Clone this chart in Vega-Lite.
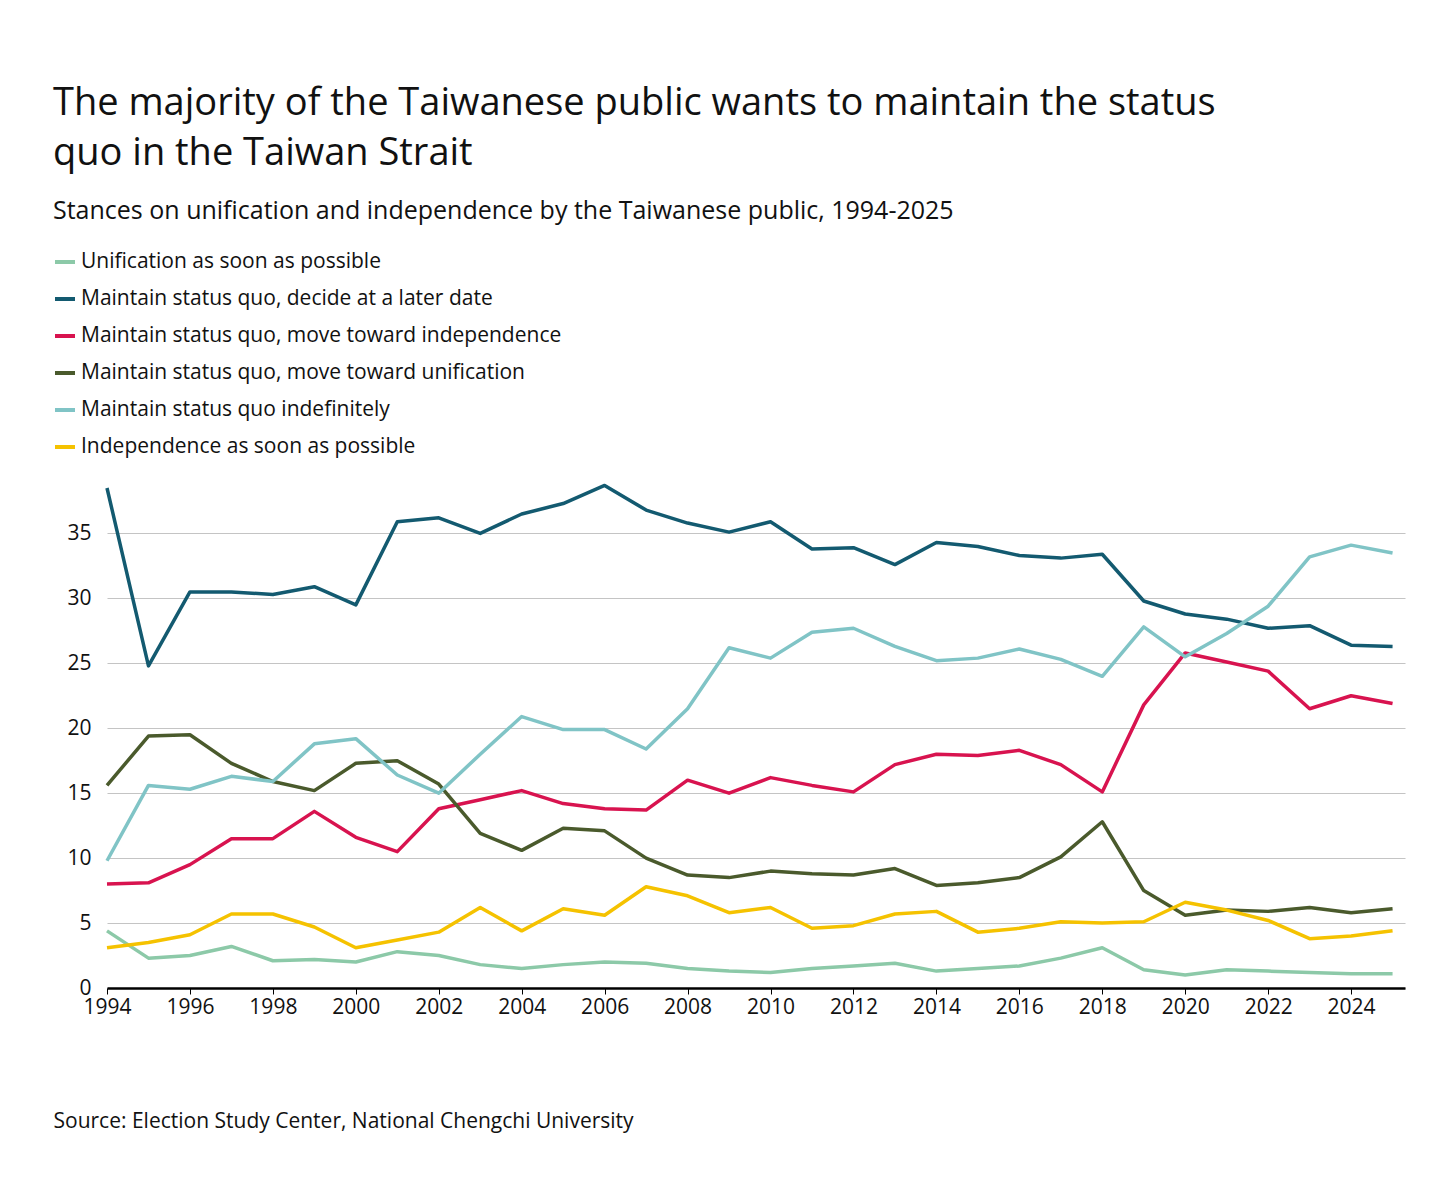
{
  "$schema": "https://vega.github.io/schema/vega-lite/v6.json",
  "width": 1298,
  "height": 513,
  "padding": {"left": 53, "top": 85, "right": 50, "bottom": 50},
  "background": "white",
  "config": {
    "font": "Open Sans",
    "view": {"stroke": null}
  },
  "title": {
    "text": ["The majority of the Taiwanese public wants to maintain the status", "quo in the Taiwan Strait"],
    "subtitle": "Stances on unification and independence by the Taiwanese public, 1994-2025",
    "anchor": "start",
    "frame": "bounds",
    "fontSize": 38,
    "fontWeight": "normal",
    "lineHeight": 50,
    "color": "#111",
    "subtitleFontSize": 25,
    "subtitleColor": "#111",
    "subtitlePadding": 26,
    "offset": 26
  },
  "data": {
    "values": [
      {"year": 1994, "a": 4.4, "b": 38.5, "c": 8.0, "d": 15.6, "e": 9.8, "f": 3.1},
      {"year": 1995, "a": 2.3, "b": 24.8, "c": 8.1, "d": 19.4, "e": 15.6, "f": 3.5},
      {"year": 1996, "a": 2.5, "b": 30.5, "c": 9.5, "d": 19.5, "e": 15.3, "f": 4.1},
      {"year": 1997, "a": 3.2, "b": 30.5, "c": 11.5, "d": 17.3, "e": 16.3, "f": 5.7},
      {"year": 1998, "a": 2.1, "b": 30.3, "c": 11.5, "d": 15.9, "e": 15.9, "f": 5.7},
      {"year": 1999, "a": 2.2, "b": 30.9, "c": 13.6, "d": 15.2, "e": 18.8, "f": 4.7},
      {"year": 2000, "a": 2.0, "b": 29.5, "c": 11.6, "d": 17.3, "e": 19.2, "f": 3.1},
      {"year": 2001, "a": 2.8, "b": 35.9, "c": 10.5, "d": 17.5, "e": 16.4, "f": 3.7},
      {"year": 2002, "a": 2.5, "b": 36.2, "c": 13.8, "d": 15.7, "e": 15.0, "f": 4.3},
      {"year": 2003, "a": 1.8, "b": 35.0, "c": 14.5, "d": 11.9, "e": 18.0, "f": 6.2},
      {"year": 2004, "a": 1.5, "b": 36.5, "c": 15.2, "d": 10.6, "e": 20.9, "f": 4.4},
      {"year": 2005, "a": 1.8, "b": 37.3, "c": 14.2, "d": 12.3, "e": 19.9, "f": 6.1},
      {"year": 2006, "a": 2.0, "b": 38.7, "c": 13.8, "d": 12.1, "e": 19.9, "f": 5.6},
      {"year": 2007, "a": 1.9, "b": 36.8, "c": 13.7, "d": 10.0, "e": 18.4, "f": 7.8},
      {"year": 2008, "a": 1.5, "b": 35.8, "c": 16.0, "d": 8.7, "e": 21.5, "f": 7.1},
      {"year": 2009, "a": 1.3, "b": 35.1, "c": 15.0, "d": 8.5, "e": 26.2, "f": 5.8},
      {"year": 2010, "a": 1.2, "b": 35.9, "c": 16.2, "d": 9.0, "e": 25.4, "f": 6.2},
      {"year": 2011, "a": 1.5, "b": 33.8, "c": 15.6, "d": 8.8, "e": 27.4, "f": 4.6},
      {"year": 2012, "a": 1.7, "b": 33.9, "c": 15.1, "d": 8.7, "e": 27.7, "f": 4.8},
      {"year": 2013, "a": 1.9, "b": 32.6, "c": 17.2, "d": 9.2, "e": 26.3, "f": 5.7},
      {"year": 2014, "a": 1.3, "b": 34.3, "c": 18.0, "d": 7.9, "e": 25.2, "f": 5.9},
      {"year": 2015, "a": 1.5, "b": 34.0, "c": 17.9, "d": 8.1, "e": 25.4, "f": 4.3},
      {"year": 2016, "a": 1.7, "b": 33.3, "c": 18.3, "d": 8.5, "e": 26.1, "f": 4.6},
      {"year": 2017, "a": 2.3, "b": 33.1, "c": 17.2, "d": 10.1, "e": 25.3, "f": 5.1},
      {"year": 2018, "a": 3.1, "b": 33.4, "c": 15.1, "d": 12.8, "e": 24.0, "f": 5.0},
      {"year": 2019, "a": 1.4, "b": 29.8, "c": 21.8, "d": 7.5, "e": 27.8, "f": 5.1},
      {"year": 2020, "a": 1.0, "b": 28.8, "c": 25.8, "d": 5.6, "e": 25.5, "f": 6.6},
      {"year": 2021, "a": 1.4, "b": 28.4, "c": 25.1, "d": 6.0, "e": 27.3, "f": 6.0},
      {"year": 2022, "a": 1.3, "b": 27.7, "c": 24.4, "d": 5.9, "e": 29.4, "f": 5.2},
      {"year": 2023, "a": 1.2, "b": 27.9, "c": 21.5, "d": 6.2, "e": 33.2, "f": 3.8},
      {"year": 2024, "a": 1.1, "b": 26.4, "c": 22.5, "d": 5.8, "e": 34.1, "f": 4.0},
      {"year": 2025, "a": 1.1, "b": 26.3, "c": 21.9, "d": 6.1, "e": 33.5, "f": 4.4}
    ]
  },
  "transform": [
    {"fold": ["a", "b", "c", "d", "e", "f"], "as": ["key", "value"]},
    {"lookup": "key", "from": {"data": {"values": [
      {"key": "a", "stance": "Unification as soon as possible"},
      {"key": "b", "stance": "Maintain status quo, decide at a later date"},
      {"key": "c", "stance": "Maintain status quo, move toward independence"},
      {"key": "d", "stance": "Maintain status quo, move toward unification"},
      {"key": "e", "stance": "Maintain status quo indefinitely"},
      {"key": "f", "stance": "Independence as soon as possible"}
    ]}, "key": "key", "fields": ["stance"]}}
  ],
  "mark": {"type": "line", "strokeWidth": 3.5, "strokeJoin": "round"},
  "encoding": {
    "x": {
      "field": "year", "type": "quantitative",
      "scale": {"domain": [1994, 2025.3], "nice": false, "zero": false},
      "axis": {
        "values": [1994, 1996, 1998, 2000, 2002, 2004, 2006, 2008, 2010, 2012, 2014, 2016, 2018, 2020, 2022, 2024],
        "format": "d", "grid": false, "domainColor": "#000", "domainWidth": 2.5,
        "tickColor": "#000", "tickSize": 6, "labelFontSize": 21, "labelColor": "#111",
        "labelPadding": 2, "labelFlush": false, "labelOverlap": false, "labelBound": false,
        "title": "Source: Election Study Center, National Chengchi University",
        "titleFontSize": 21, "titleFontWeight": "normal", "titleColor": "#111",
        "titleAnchor": "start", "titleAlign": "left", "titleX": -54, "titleY": 122
      }
    },
    "y": {
      "field": "value", "type": "quantitative",
      "scale": {"domain": [0, 39.5], "nice": false},
      "axis": {
        "values": [0, 5, 10, 15, 20, 25, 30, 35], "domain": false, "ticks": false,
        "gridColor": "#c4c4c4", "gridWidth": 1.2, "labelFontSize": 21, "labelColor": "#111",
        "labelPadding": 16, "title": null
      }
    },
    "color": {
      "field": "stance", "type": "nominal",
      "sort": ["Unification as soon as possible", "Maintain status quo, decide at a later date", "Maintain status quo, move toward independence", "Maintain status quo, move toward unification", "Maintain status quo indefinitely", "Independence as soon as possible"],
      "scale": {
        "domain": ["Unification as soon as possible", "Maintain status quo, decide at a later date", "Maintain status quo, move toward independence", "Maintain status quo, move toward unification", "Maintain status quo indefinitely", "Independence as soon as possible"],
        "range": ["#8cc9a8", "#135a70", "#d8134f", "#4a5a2c", "#80c4c6", "#f5c200"]
      },
      "legend": {
        "title": null, "orient": "none", "legendX": -54, "legendY": -225,
        "symbolType": "stroke", "symbolStrokeWidth": 4, "symbolSize": 400,
        "labelFontSize": 21, "labelColor": "#111", "rowPadding": 15, "labelOffset": 4,
        "labelLimit": 800
      }
    }
  }
}
